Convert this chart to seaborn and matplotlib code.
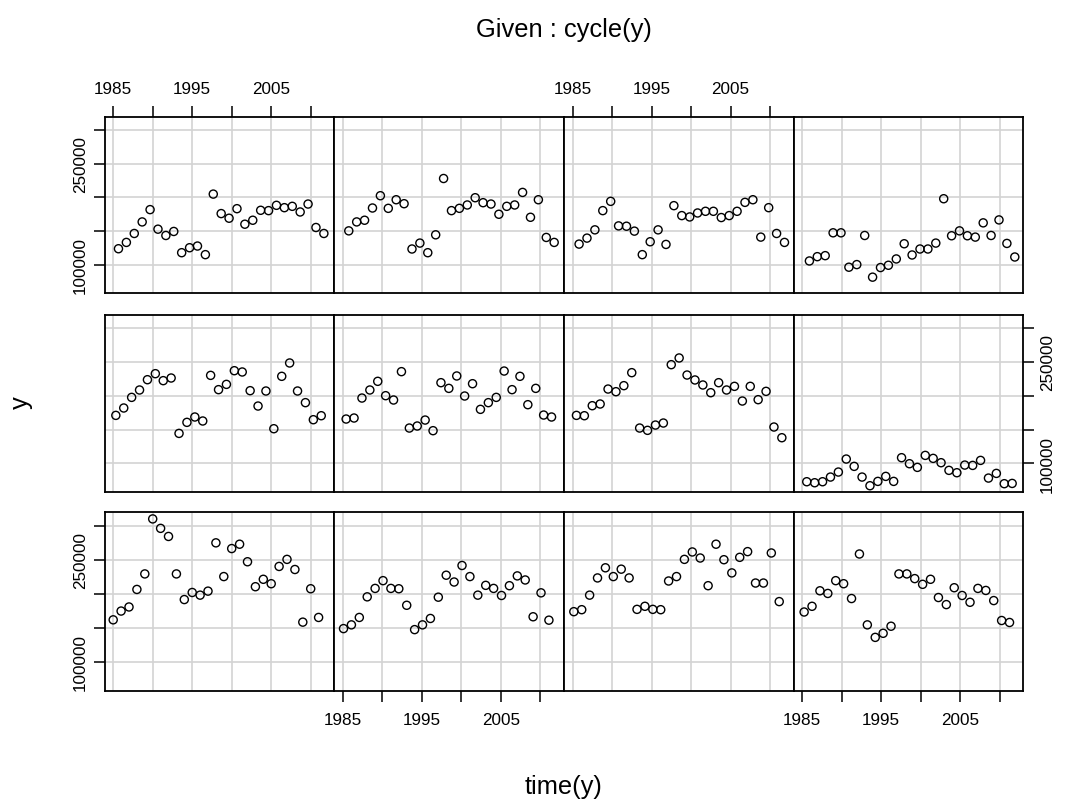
import numpy as np
import pandas as pd
import matplotlib
matplotlib.use('Agg')
import matplotlib.pyplot as plt
import seaborn as sns

# 데이터: 월별 값 (1985 ~ 2011)
years = np.arange(1985, 2012)

jan = [161500, 174400, 180400, 206200, 229000, 309900, 296000, 284100, 229000,
       191300, 201700, 197800, 203700, 274700, 225100, 266300, 272700, 246900,
       210200, 221100, 214600, 240000, 250400, 235500, 158100, 207200, 165000]
feb = [148600, 154100, 165000, 195300, 207700, 219100, 207700, 207200, 182900,
       147100, 154100, 163500, 194800, 227100, 217100, 241400, 225100, 197800,
       212200, 207700, 197300, 211700, 226100, 220100, 166000, 201200, 161000]
mar = [173500, 176400, 197800, 223100, 238000, 225100, 236000, 223100, 176900,
       181400, 176900, 176400, 218600, 225100, 250400, 261300, 252400, 211700,
       272700, 249900, 230500, 253400, 261800, 215600, 215600, 259800, 188300]
apr = [173000, 181400, 204200, 200300, 219100, 214600, 192800, 258300, 154100,
       135700, 141700, 152100, 229000, 229000, 222100, 213700, 221100, 194300,
       183900, 208700, 197300, 187300, 207700, 204700, 189800, 160500, 157600]
may = [170900, 181800, 197500, 208400, 223600, 232500, 222200, 226100, 144300,
       160600, 168500, 162600, 230000, 208900, 216700, 236900, 235000, 207400,
       184700, 206900, 151200, 228600, 248300, 206900, 189700, 164500, 170400]
jun = [165500, 167000, 196500, 208400, 221200, 200000, 193600, 235500, 152200,
       155200, 164000, 148300, 219200, 210800, 229100, 199500, 217700, 179800,
       189700, 197500, 236400, 208900, 228600, 186700, 210800, 171400, 168500]
jul = [170900, 170400, 185200, 187700, 209800, 205900, 214800, 234000, 152200,
       148800, 156600, 159600, 245800, 255700, 230500, 223200, 215800, 204400,
       219200, 208400, 213800, 192100, 213800, 194100, 206400, 153700, 137900]
aug = [72900, 71400, 72900, 79800, 87200, 106400, 95600, 79800, 67000,
       73400, 80800, 73400, 108400, 99500, 94100, 111800, 107400, 101000,
       89700, 86200, 97500, 97000, 104400, 78300, 85200, 70000, 70400]
sep = [123600, 133000, 146300, 163500, 181800, 152700, 143300, 149300, 117700,
       125100, 127600, 114800, 204900, 175900, 169000, 183200, 160100, 166000,
       180800, 180300, 188200, 184700, 186700, 178300, 190100, 155200, 146300]
oct = [150200, 163500, 166000, 184200, 202500, 183700, 196500, 190600, 123200,
       132000, 117700, 144300, 228100, 180300, 183700, 188700, 199500, 192100,
       190100, 174900, 186700, 188700, 207400, 170400, 196500, 140400, 133000]
nov = [130500, 139400, 151700, 180300, 194100, 157600, 157100, 149800, 114800,
       134000, 151700, 130000, 187700, 172900, 170900, 176800, 179300, 179300,
       170000, 172900, 179300, 192600, 196500, 140900, 184700, 146300, 133000]
dec = [105400, 111800, 113300, 147300, 147300, 96100, 100000, 143300, 81300,
       95600, 99000, 108400, 131000, 114300, 123200, 123200, 132000, 198000,
       142900, 150200, 142900, 140900, 162100, 143300, 166500, 131500, 111300]

monthly = [jan, feb, mar, apr, may, jun, jul, aug, sep, oct, nov, dec]

x_ticks = [1985, 1990, 1995, 2000, 2005, 2010]
x_labels = ['1985', '', '1995', '', '2005', '']
y_ticks = [100000, 150000, 200000, 250000, 300000]
y_labels = ['100000', '', '', '250000', '']

rows = []
for m, vals in enumerate(monthly, start=1):
    for yr, v in zip(years, vals):
        rows.append({'time': yr + (m - 1) / 12, 'cycle': m, 'y': v})
df = pd.DataFrame(rows)

# 축 범위 (R 방식: 양쪽 4% 확장)
tmin, tmax = df['time'].min(), df['time'].max()
ymin, ymax = df['y'].min(), df['y'].max()
xlim = (tmin - 0.04 * (tmax - tmin), tmax + 0.04 * (tmax - tmin))
ylim = (ymin - 0.04 * (ymax - ymin), ymax + 0.04 * (ymax - ymin))

sns.set_style('white')
plt.rcParams['font.family'] = ['Liberation Sans', 'DejaVu Sans']
plt.rcParams['text.color'] = 'black'
plt.rcParams['xtick.color'] = 'black'
plt.rcParams['ytick.color'] = 'black'

W, H = 1067, 804
fig = plt.figure(figsize=(W / 100, H / 100), dpi=100)

left0 = 104.7
colw = 229.65
row_px = [(118.0, 294.3), (315.7, 493.3), (513.3, 691.7)]
tick_fs = 12.3

for r, (top, bot) in enumerate(row_px):
    for c in range(4):
        month = (2 - r) * 4 + c + 1
        ax = fig.add_axes([(left0 + c * colw) / W, 1 - bot / H, colw / W, (bot - top) / H])
        sub = df[df['cycle'] == month]
        sns.scatterplot(data=sub, x='time', y='y', ax=ax, marker='o', s=34,
                        facecolor='none', edgecolor='black', linewidth=1.0, zorder=3)
        ax.collections[-1].set_facecolor('none')
        ax.set_xlim(xlim)
        ax.set_ylim(ylim)
        ax.set_xticks(x_ticks)
        ax.set_yticks(y_ticks)
        ax.grid(True, color='#D3D3D3', linewidth=1.2)
        ax.set_axisbelow(True)
        ax.set_xlabel('')
        ax.set_ylabel('')
        for sp in ax.spines.values():
            sp.set_color('black')
            sp.set_linewidth(1.3)

        show_top = (r == 0 and c in (0, 2))
        show_bottom = (r == 2 and c in (1, 3))
        show_left = (r in (0, 2) and c == 0)
        show_right = (r == 1 and c == 3)

        ax.tick_params(axis='both', direction='out', length=7.6, width=1.1,
                       colors='black', labelcolor='black', labelsize=tick_fs)
        ax.tick_params(axis='x', top=show_top, labeltop=show_top,
                       bottom=show_bottom, labelbottom=show_bottom, pad=7.5)
        ax.tick_params(axis='y', left=show_left, labelleft=show_left,
                       right=show_right, labelright=show_right, pad=4.5)
        ax.set_xticklabels(x_labels)
        ax.set_yticklabels(y_labels, rotation=90, va='center')

fig.text(564 / W, 1 - 30 / H, 'Given : cycle(y)', ha='center', va='center',
         fontsize=18.4, color='black')
fig.text(564 / W, 1 - 787 / H, 'time(y)', ha='center', va='center',
         fontsize=18.4, color='black')
fig.text(21 / W, 1 - 403 / H, 'y', ha='center', va='center', fontsize=18.4,
         rotation=90, color='black')

plt.savefig('out.png', dpi=100)
